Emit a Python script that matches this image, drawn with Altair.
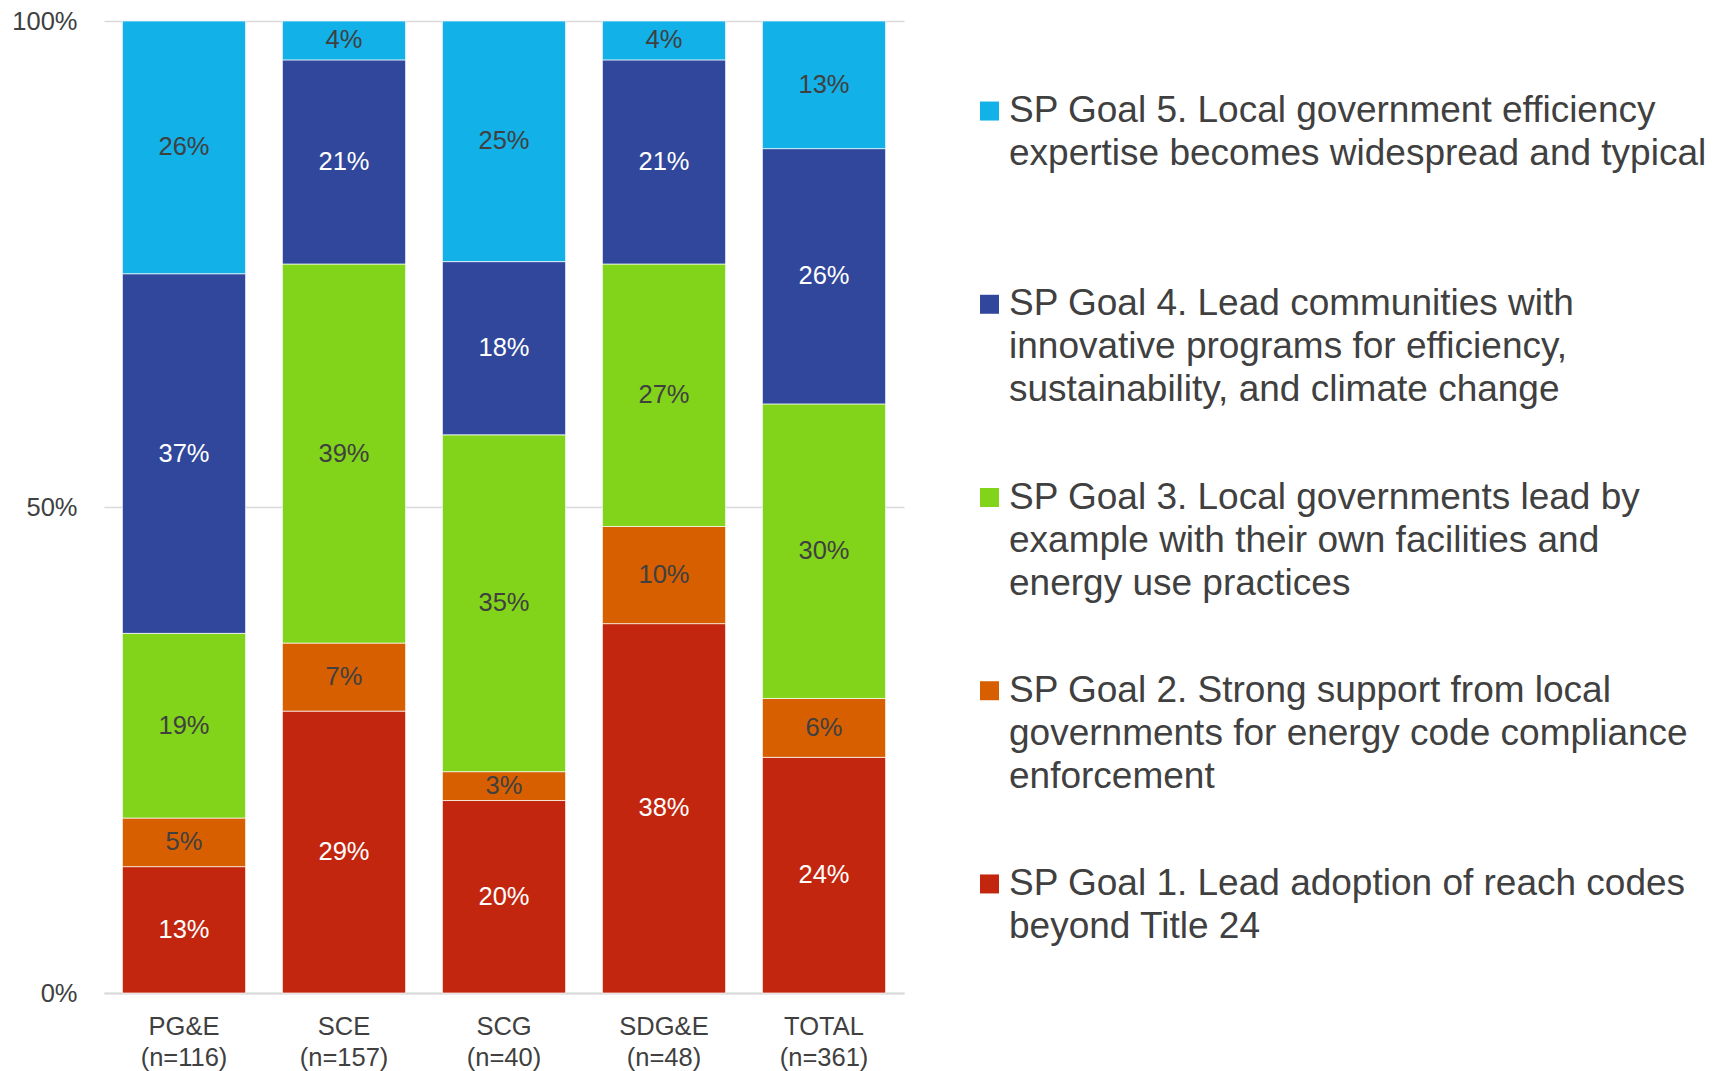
import altair as alt
import pandas as pd

FONT = "Liberation Sans, Arial, sans-serif"
TEXT_DARK = "#404040"

utilities = ["PG&E", "SCE", "SCG", "SDG&E", "TOTAL"]
sample_sizes = [116, 157, 40, 48, 361]

goals = [
    "SP Goal 1. Lead adoption of reach codes\nbeyond Title 24",
    "SP Goal 2. Strong support from local\ngovernments for energy code compliance\nenforcement",
    "SP Goal 3. Local governments lead by\nexample with their own facilities and\nenergy use practices",
    "SP Goal 4. Lead communities with\ninnovative programs for efficiency,\nsustainability, and climate change",
    "SP Goal 5. Local government efficiency\nexpertise becomes widespread and typical",
]
goal_colors = ["#C3260E", "#D75F00", "#82D41A", "#30479C", "#12B1E8"]

# percent of respondents per utility
goal1 = [13, 29, 20, 38, 24]
goal2 = [5, 7, 3, 10, 6]
goal3 = [19, 39, 35, 27, 30]
goal4 = [37, 21, 18, 21, 26]
goal5 = [26, 4, 25, 4, 13]
series = [goal1, goal2, goal3, goal4, goal5]

x_labels = [f"{u}|(n={n})" for u, n in zip(utilities, sample_sizes)]

rows = []
for i, xl in enumerate(x_labels):
    for k, vals in enumerate(series):
        rows.append({"xlabel": xl, "goal": goals[k], "order": k + 1, "value": vals[i]})
df = pd.DataFrame(rows)

color_scale = alt.Scale(domain=goals, range=goal_colors)

base = (
    alt.Chart(df)
    .transform_joinaggregate(total="sum(value)", groupby=["xlabel"])
    .transform_calculate(pct="datum.value / datum.total")
    .transform_stack(
        stack="pct",
        groupby=["xlabel"],
        sort=[alt.SortField("order", order="ascending")],
        as_=["y0", "y1"],
    )
    .transform_calculate(mid="(datum.y0 + datum.y1) / 2", label="datum.value + '%'")
)

x_enc = alt.X(
    "xlabel:N",
    sort=x_labels,
    title=None,
    scale=alt.Scale(paddingInner=0.23, paddingOuter=0.115),
    axis=alt.Axis(
        labelExpr="split(datum.label, '|')",
        labelAngle=0,
        ticks=False,
        domainColor="#D9D9D9",
        domainWidth=2,
        labelPadding=21,
        labelLineHeight=31,
        labelFontSize=25.5,
        labelColor=TEXT_DARK,
        labelFont=FONT,
    ),
)

y_axis = alt.Axis(
    values=[0, 0.5, 1],
    format=".0%",
    ticks=False,
    domain=False,
    grid=True,
    gridColor="#D9D9D9",
    gridWidth=1.5,
    labelPadding=27,
    labelFontSize=25.5,
    labelColor=TEXT_DARK,
    labelFont=FONT,
)

bars = base.mark_bar(stroke="white", strokeWidth=0.7).encode(
    x=x_enc,
    y=alt.Y("y0:Q", title=None, scale=alt.Scale(domain=[0, 1], nice=False), axis=y_axis),
    y2="y1:Q",
    color=alt.Color("goal:N", scale=color_scale, legend=None),
)

texts = base.mark_text(fontSize=25.5, font=FONT).encode(
    x=alt.X("xlabel:N", sort=x_labels, title=None),
    y=alt.Y("mid:Q", title=None),
    text="label:N",
    color=alt.condition(
        "datum.order == 1 || datum.order == 4",
        alt.value("white"),
        alt.value(TEXT_DARK),
    ),
)

main = alt.layer(bars, texts).properties(width=800, height=972)

legend_df = pd.DataFrame({"goal": goals, "order": list(range(1, 6))})
leg_base = alt.Chart(legend_df).encode(
    y=alt.Y(
        "goal:N",
        sort=goals[::-1],
        scale=alt.Scale(type="point", padding=0.466),
        axis=None,
    )
)
squares = leg_base.mark_square(size=361, opacity=1).encode(
    x=alt.value(18.5),
    color=alt.Color("goal:N", scale=color_scale, legend=None),
)
leg_text = leg_base.mark_text(
    align="left",
    baseline="top",
    dy=-18,
    fontSize=37,
    lineHeight=43,
    lineBreak="\n",
    color=TEXT_DARK,
    font=FONT,
).encode(x=alt.value(38), text="goal:N")

legend = alt.layer(squares, leg_text).properties(width=730, height=953)

chart = (
    alt.hconcat(main, legend, spacing=67, bounds="flush")
    .properties(padding={"left": 3, "top": 1, "right": 0, "bottom": 0})
    .configure_view(stroke=None)
)

chart.save("out.html", embed_options={"renderer": "svg", "actions": False})
